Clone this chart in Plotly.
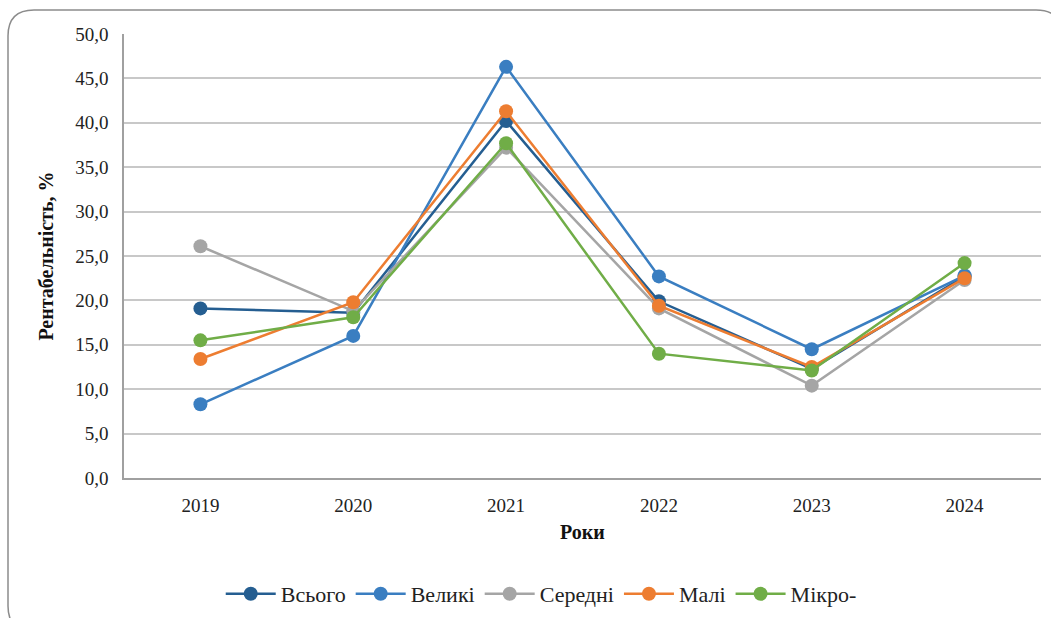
import plotly.graph_objects as go

years = ["2019", "2020", "2021", "2022", "2023", "2024"]
vsoho = [19.1, 18.6, 40.2, 19.9, 12.3, 22.7]
velyki = [8.3, 16.0, 46.3, 22.7, 14.5, 22.8]
seredni = [26.1, 18.8, 37.2, 19.1, 10.4, 22.3]
mali = [13.4, 19.8, 41.3, 19.4, 12.5, 22.5]
mikro = [15.5, 18.1, 37.7, 14.0, 12.1, 24.2]

series = [
    ("Всього", vsoho, "#255E91"),
    ("Великі", velyki, "#3A7EC1"),
    ("Середні", seredni, "#A5A5A5"),
    ("Малі", mali, "#ED7D31"),
    ("Мікро-", mikro, "#70AD47"),
]

fig = go.Figure()
for name, vals, col in series:
    fig.add_trace(go.Scatter(
        x=years, y=vals, name=name, mode="lines+markers",
        line=dict(color=col, width=2.5),
        marker=dict(color=col, size=14),
    ))

W, H = 1051, 618
L, R, T, B = 124, 10, 34, 140
pw, ph = W - L - R, H - T - B

def px(x):
    return (x - L) / pw

def py(y):
    return (H - B - y) / ph

x0, y0, x1, y1, r = 8, 10, 1062, 632, 26
path = (f"M {px(x0)},{py(y0 + r)} Q {px(x0)},{py(y0)} {px(x0 + r)},{py(y0)} "
        f"L {px(x1 - r)},{py(y0)} Q {px(x1)},{py(y0)} {px(x1)},{py(y0 + r)} "
        f"L {px(x1)},{py(y1 - r)} Q {px(x1)},{py(y1)} {px(x1 - r)},{py(y1)} "
        f"L {px(x0 + r)},{py(y1)} Q {px(x0)},{py(y1)} {px(x0)},{py(y1 - r)} Z")

fig.add_shape(type="path", path=path, xref="paper", yref="paper",
              line=dict(color="#8C8C8C", width=1.5), layer="below")

FONT = "Times New Roman, Liberation Serif, serif"
tick_font = dict(family=FONT, size=19, color="#222222")
fig.update_layout(
    width=W, height=H,
    margin=dict(l=L, r=R, t=T, b=B, autoexpand=False),
    paper_bgcolor="white", plot_bgcolor="white",
    font=dict(family=FONT, size=19, color="#222222"),
    showlegend=True,
    legend=dict(orientation="h", x=0.455, xanchor="center",
                yref="container", y=1 - 594 / H, yanchor="middle",
                font=dict(family=FONT, size=22, color="#222222"), itemwidth=50),
    xaxis=dict(
        type="category", showgrid=False, showline=True, linecolor="#A0A0A0", linewidth=1.5,
        ticks="outside", ticklen=9, tickcolor="rgba(0,0,0,0)", tickfont=tick_font,
        title=dict(text="<b>Роки</b>", font=dict(family=FONT, size=20, color="#111111"), standoff=10),
        range=[-0.5, 5.5], automargin=False,
    ),
    yaxis=dict(
        range=[0, 50], dtick=5, tickformat=".1f",
        showgrid=True, gridcolor="#C8C8C8", gridwidth=1.5,
        showline=True, linecolor="#A0A0A0", linewidth=1.5, zeroline=False,
        ticks="outside", ticklen=10, tickcolor="rgba(0,0,0,0)", tickfont=tick_font,
        title=dict(text="<b>Рентабельність, %</b>", font=dict(family=FONT, size=20, color="#111111"), standoff=16),
        automargin=False,
    ),
    separators=",.",
)

fig.write_html("out.html")
